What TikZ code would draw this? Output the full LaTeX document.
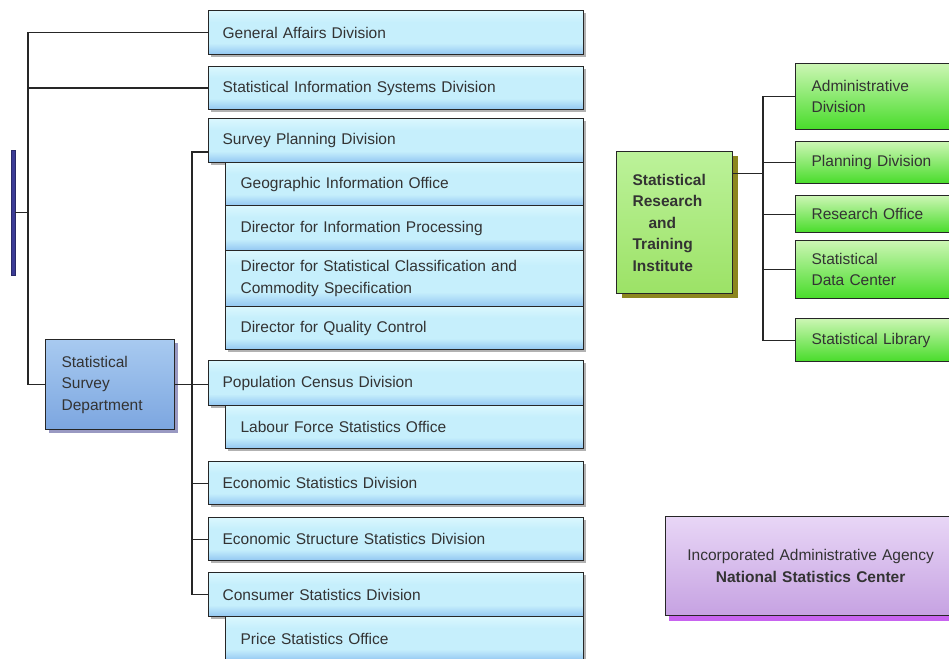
\documentclass[tikz,border=0pt]{standalone}
\usepackage{fontspec}
\setmainfont{Liberation Sans}
\usetikzlibrary{calc,shadows}
\definecolor{bluetop}{HTML}{DAF7FE}
\definecolor{bluemid}{HTML}{C6EFFC}
\definecolor{bluebot}{HTML}{92C6F2}
\definecolor{depttop}{HTML}{A8CAF0}
\definecolor{deptbot}{HTML}{7CA6E0}
\definecolor{greentop}{HTML}{CCF6B4}
\definecolor{greenmid}{HTML}{90EA6C}
\definecolor{greenbot}{HTML}{48DC2A}
\definecolor{insttop}{HTML}{BCF29A}
\definecolor{instbot}{HTML}{9CE266}
\definecolor{instshade}{HTML}{8C861E}
\definecolor{purpletop}{HTML}{E8D6F6}
\definecolor{purplebot}{HTML}{C6A2E2}
\definecolor{purpleshade}{HTML}{C864F0}
\definecolor{hqblue}{HTML}{3C3C96}
\pgfdeclareverticalshading{bluebox}{100bp}{color(0bp)=(bluebot); color(25bp)=(bluebot);
  color(38bp)=(bluemid); color(62bp)=(bluemid); color(75bp)=(bluetop); color(100bp)=(bluetop)}

\begin{document}
\begin{tikzpicture}[x=1pt,y=-1pt,
  box/.style={draw=black!85,line width=1.2pt,anchor=north west,inner ysep=0pt,
    align=left,font=\fontsize{15.5}{21.5}\selectfont,text=black!80},
  division/.style={box,shading=bluebox,
    inner xsep=14pt,text width=347pt,minimum width=375pt,
    drop shadow={shadow xshift=2pt,shadow yshift=-2pt,fill=black!30,opacity=1}},
  office/.style={division,inner xsep=15pt,text width=328pt,minimum width=358pt},
  dept/.style={box,top color=depttop,bottom color=deptbot,inner xsep=16pt,
    text width=97pt,minimum width=129pt,
    drop shadow={shadow xshift=3pt,shadow yshift=-3pt,fill=black!60!blue!40,opacity=1}},
  institute/.style={box,top color=insttop,bottom color=instbot,inner xsep=16pt,
    text width=84pt,minimum width=116pt,font=\bfseries\fontsize{15.5}{21.5}\selectfont,
    drop shadow={shadow xshift=5pt,shadow yshift=-4pt,fill=instshade,opacity=1}},
  section/.style={box,top color=greentop,middle color=greenmid,bottom color=greenbot,
    inner xsep=16pt,text width=138pt,minimum width=170pt},
  agency/.style={box,top color=purpletop,bottom color=purplebot,inner xsep=15pt,
    text width=260pt,minimum width=290pt,align=center,
    drop shadow={shadow xshift=3pt,shadow yshift=-5pt,fill=purpleshade,opacity=1}},
  link/.style={line width=1.2pt,black!85}]
\useasboundingbox (0,0) rectangle (949,658);

% cut-off parent at the left edge
\node[fill=hqblue,draw=hqblue!70!black,anchor=north west,inner sep=0pt,
  minimum width=4pt,minimum height=125pt] (hq) at (11,150) {};

% divisions of the department
\node[division,minimum height=44pt] (ga) at (208,10) {General Affairs Division};
\node[division,minimum height=43pt] (sis) at (208,66) {Statistical Information Systems Division};
\node[division,minimum height=44pt] (spd) at (208,118) {Survey Planning Division};
\node[office,minimum height=43pt] (gio) at (225,162) {Geographic Information Office};
\node[office,minimum height=45pt] (dip) at (225,205) {Director for Information Processing};
\node[office,minimum height=56pt] (dsc) at (225,250) {Director for Statistical Classification and\\Commodity Specification};
\node[office,minimum height=43pt] (dqc) at (225,306) {Director for Quality Control};
\node[division,minimum height=45pt] (pcd) at (208,360) {Population Census Division};
\node[office,minimum height=43pt] (lfs) at (225,405) {Labour Force Statistics Office};
\node[division,minimum height=43pt] (esd) at (208,461) {Economic Statistics Division};
\node[division,minimum height=43pt] (ess) at (208,517) {Economic Structure Statistics Division};
\node[division,minimum height=44pt] (csd) at (208,572) {Consumer Statistics Division};
\node[office,minimum height=44pt] (pso) at (225,616) {Price Statistics Office};

\node[dept,minimum height=90pt] (ssd) at (45,339) {Statistical\\Survey\\Department};

% institute
\node[institute,minimum height=142pt] (srti) at (616,151) {Statistical\\Research\\\hspace{16pt}and\\Training\\Institute};
\node[section,minimum height=66pt] (adm) at (795,63) {Administrative\\Division};
\node[section,minimum height=42pt] (pln) at (795,141) {Planning Division};
\node[section,minimum height=37pt] (rso) at (795,195) {Research Office};
\node[section,minimum height=58pt] (sdc) at (795,240) {Statistical\\Data Center};
\node[section,minimum height=43pt] (lib) at (795,318) {Statistical Library};

\node[agency,minimum height=99pt] (nsc) at (665,516) {Incorporated Administrative Agency\\\textbf{National Statistics Center}};

% connectors
\coordinate (spine) at (28,0);
\coordinate (trunk) at (192,0);
\coordinate (gtrunk) at (763,0);
\coordinate (spdin) at ($(spd.west)!0.5!(spd.south west)$);
\coordinate (srtiout) at ($(srti.north east)!0.155!(srti.south east)$);

\draw[link] (ga.west) -| (spine |- ssd.west) -- (ssd.west);
\draw[link] (sis.west) -- (sis.west -| spine);
\draw[link] (hq.east) -- (hq.east -| spine);

\draw[link] (spdin) -| (trunk |- csd.west) -- (csd.west);
\draw[link] (ssd.east) -- (ssd.east -| pcd.west);
\draw[link] (esd.west) -- (esd.west -| trunk);
\draw[link] (ess.west) -- (ess.west -| trunk);

\draw[link] (srtiout) -- (srtiout -| gtrunk);
\draw[link] (adm.west) -| (gtrunk |- lib.west) -- (lib.west);
\draw[link] (pln.west) -- (pln.west -| gtrunk);
\draw[link] (rso.west) -- (rso.west -| gtrunk);
\draw[link] (sdc.west) -- (sdc.west -| gtrunk);
\end{tikzpicture}
\end{document}
